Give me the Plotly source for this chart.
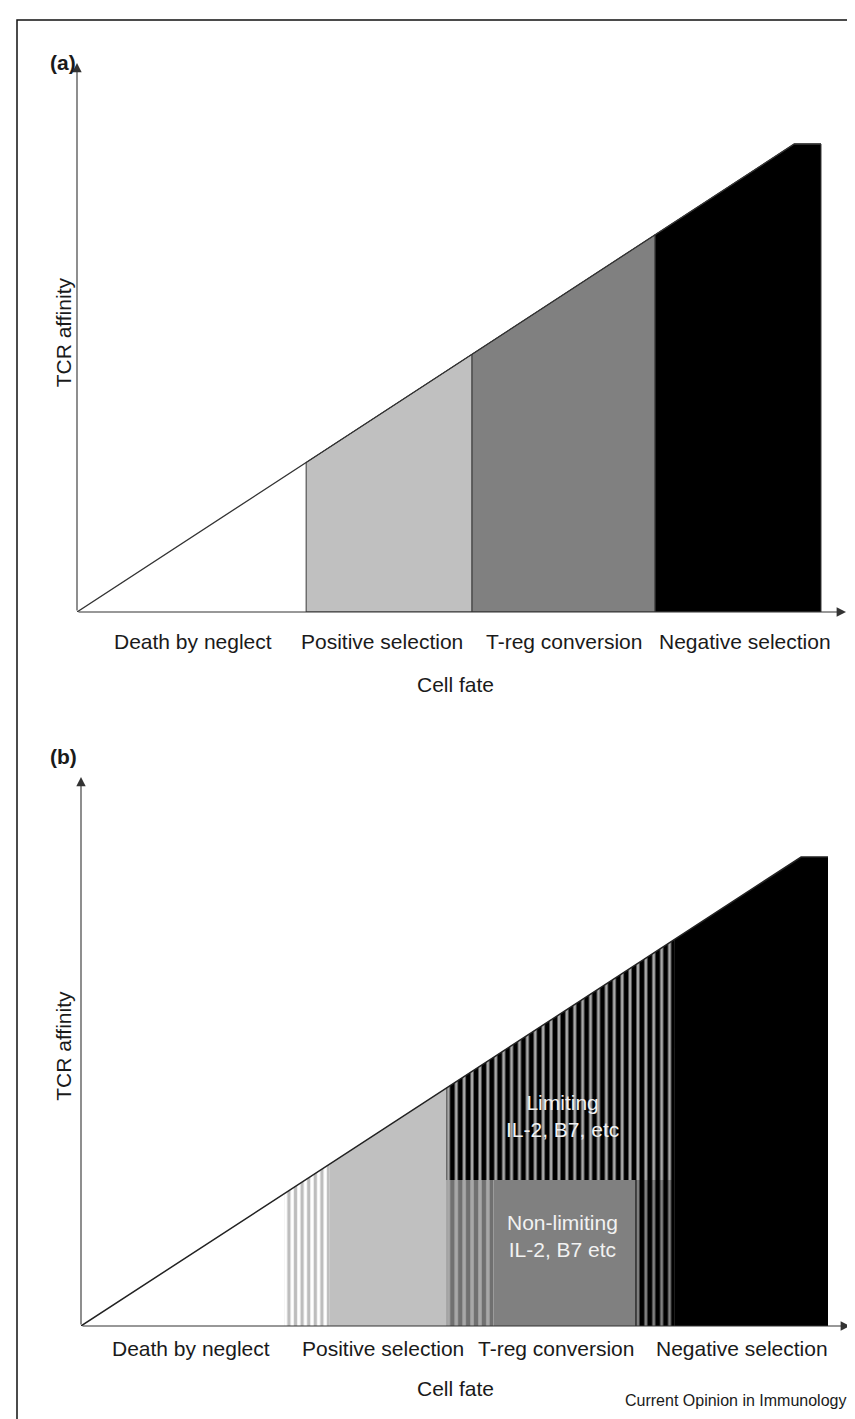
import plotly.graph_objects as go

W, H = 855, 1419
FONT = "Liberation Sans, Arial, Helvetica, sans-serif"

# ---------------- data ----------------
fates = ["Death by neglect", "Positive selection", "T-reg conversion", "Negative selection"]

# panel (a): affinity thresholds separating fates (arbitrary affinity units 0-100)
edges_a = [0, 30.8, 53.1, 77.7, 100]
fills_a = ["#ffffff", "#c0c0c0", "#808080", "#000000"]
cap_a = 96.4
label_x_a = [15.6, 41.0, 65.5, 89.8]

# panel (b)
cap_b = 96.4
pos_stripe_b = [27.2, 33.3]          # mixed neglect / positive selection
pos_b = [33.3, 48.9]                 # positive selection
treg_b = [48.9, 79.5]                # T-reg window
nonlim_left_b = [48.9, 55.2]
nonlim_mid_b = [55.2, 74.2]
nonlim_right_b = [74.2, 79.5]
neg_b = [79.5, 100]
limit_level_b = 30.0                 # affinity dividing limiting / non-limiting
label_x_b = [14.7, 40.4, 63.6, 88.5]

# pixel geometry of the two panels (origin, axis ends)
pan = {
    "a": dict(ox=69, oy=604, xend=838, ytop=55, xpx=7.44, ypx=4.855),
    "b": dict(ox=73, oy=1318, xend=842, ytop=769, xpx=7.47, ypx=4.865),
}


def diag(x, cap):
    return min(x, cap)


def region(x0, x1, cap, ylo=0.0):
    xs = [x0, x1, x1]
    ys = [ylo, ylo, diag(x1, cap)]
    if x0 < cap < x1:
        xs.append(cap)
        ys.append(cap)
    xs.append(x0)
    ys.append(diag(x0, cap))
    xs.append(x0)
    ys.append(ylo)
    return xs, ys


def box(x0, x1, y0, y1):
    return [x0, x1, x1, x0, x0], [y0, y0, y1, y1, y0]


fig = go.Figure()

# ---------------- panel (a) ----------------
for i in range(1, 4):
    xs, ys = region(edges_a[i], edges_a[i + 1], cap_a)
    fig.add_trace(go.Scatter(x=xs, y=ys, fill="toself", fillcolor=fills_a[i],
                             mode="lines", line=dict(color="#3a3a3a", width=1),
                             hoverinfo="skip", showlegend=False, xaxis="x", yaxis="y"))
fig.add_trace(go.Scatter(x=[0, cap_a, 100], y=[0, cap_a, cap_a], mode="lines",
                         line=dict(color="#333333", width=1.3), hoverinfo="skip",
                         showlegend=False, xaxis="x", yaxis="y"))

# ---------------- panel (b) ----------------
def add_b(xs, ys, bg, fg=None, size=8, solidity=0.4):
    kw = {}
    if fg is not None:
        kw["fillpattern"] = dict(shape="|", bgcolor=bg, fgcolor=fg, size=size,
                                 solidity=solidity, fillmode="replace")
    fig.add_trace(go.Scatter(x=xs, y=ys, fill="toself", fillcolor=bg, mode="lines",
                             line=dict(width=0, color=bg), hoverinfo="skip",
                             showlegend=False, xaxis="x2", yaxis="y2", **kw))


xs, ys = region(pos_stripe_b[0], pos_stripe_b[1], cap_b)
add_b(xs, ys, "#ffffff", "#bdbdbd", size=6.6, solidity=0.5)
xs, ys = region(pos_b[0], pos_b[1], cap_b)
add_b(xs, ys, "#c0c0c0")
xs, ys = region(treg_b[0], treg_b[1], cap_b, ylo=limit_level_b)
add_b(xs, ys, "#000000", "#a8a8a8", size=7.9, solidity=0.38)
xs, ys = box(nonlim_left_b[0], nonlim_left_b[1], 0, limit_level_b)
add_b(xs, ys, "#707070", "#a8a8a8", size=7.9, solidity=0.45)
xs, ys = box(nonlim_mid_b[0], nonlim_mid_b[1], 0, limit_level_b)
add_b(xs, ys, "#808080")
xs, ys = box(nonlim_right_b[0], nonlim_right_b[1], 0, limit_level_b)
add_b(xs, ys, "#000000", "#808080", size=7.9, solidity=0.38)
xs, ys = region(neg_b[0], neg_b[1], cap_b)
add_b(xs, ys, "#000000")
fig.add_trace(go.Scatter(x=[0, cap_b, 100], y=[0, cap_b, cap_b], mode="lines",
                         line=dict(color="#222222", width=1.5), hoverinfo="skip",
                         showlegend=False, xaxis="x2", yaxis="y2"))

# ---------------- axes ----------------
def axis_setup(p):
    g = pan[p]
    xr = (g["xend"] - g["ox"]) / g["xpx"]
    yr = (g["oy"] - g["ytop"]) / g["ypx"]
    xd = [g["ox"] / W, g["xend"] / W]
    yd = [1 - g["oy"] / H, 1 - g["ytop"] / H]
    common = dict(showgrid=False, zeroline=False, showline=False, showticklabels=False,
                  ticks="", fixedrange=True)
    return dict(range=[0, xr], domain=xd, **common), dict(range=[0, yr], domain=yd, **common), xr, yr


xa, ya, xr_a, yr_a = axis_setup("a")
xb, yb, xr_b, yr_b = axis_setup("b")

annotations = []


def arrows(xref, yref, xr, yr):
    for (hx, hy) in [(xr, 0), (0, yr)]:
        annotations.append(dict(x=hx, y=hy, ax=0, ay=0, xref=xref, yref=yref,
                                axref=xref, ayref=yref, showarrow=True, text="",
                                arrowhead=2, arrowsize=1.7, arrowwidth=1.1,
                                arrowcolor="#333333"))


arrows("x", "y", xr_a, yr_a)
arrows("x2", "y2", xr_b, yr_b)

txt = dict(family=FONT, size=21, color="#1a1a1a")
for lx, name in zip(label_x_a, fates):
    annotations.append(dict(x=lx, y=0, xref="x", yref="y", text=name, showarrow=False,
                            yshift=-29, font=txt))
for lx, name in zip(label_x_b, fates):
    annotations.append(dict(x=lx, y=0, xref="x2", yref="y2", text=name, showarrow=False,
                            yshift=-22, font=txt))

annotations.append(dict(x=50.9, y=0, xref="x", yref="y", text="Cell fate", showarrow=False,
                        yshift=-72, font=txt))
annotations.append(dict(x=50.2, y=0, xref="x2", yref="y2", text="Cell fate", showarrow=False,
                        yshift=-62, font=txt))
annotations.append(dict(x=42 / W, y=57.5, xref="paper", yref="y", text="TCR affinity",
                        textangle=-90, showarrow=False, font=txt))
annotations.append(dict(x=42 / W, y=57.5, xref="paper", yref="y2", text="TCR affinity",
                        textangle=-90, showarrow=False, font=txt))
annotations.append(dict(x=40 / W, y=1 - 41 / H, xref="paper", yref="paper", text="<b>(a)</b>",
                        showarrow=False, font=dict(family=FONT, size=21, color="#1a1a1a")))
annotations.append(dict(x=40 / W, y=1 - 748 / H, xref="paper", yref="paper", text="<b>(b)</b>",
                        showarrow=False, font=dict(family=FONT, size=21, color="#1a1a1a")))
annotations.append(dict(x=64.4, y=43.2, xref="x2", yref="y2", text="Limiting<br>IL-2, B7, etc",
                        showarrow=False, font=dict(family=FONT, size=21, color="#f2f2f2")))
annotations.append(dict(x=64.4, y=18.5, xref="x2", yref="y2", text="Non-limiting<br>IL-2, B7 etc",
                        showarrow=False, font=dict(family=FONT, size=21, color="#f2f2f2")))
annotations.append(dict(x=840 / W, y=1 - 1403 / H, xref="paper", yref="paper",
                        text="Current Opinion in Immunology", xanchor="right", showarrow=False,
                        font=dict(family=FONT, size=16, color="#1a1a1a")))

fig.update_layout(
    width=W, height=H, margin=dict(l=0, r=0, t=0, b=0),
    paper_bgcolor="white", plot_bgcolor="rgba(0,0,0,0)",
    xaxis=xa, yaxis=ya, xaxis2=dict(xb, anchor="y2"), yaxis2=dict(yb, anchor="x2"),
    annotations=annotations, showlegend=False,
    shapes=[dict(type="rect", xref="paper", yref="paper", x0=9 / W, x1=1.02,
                 y0=-0.02, y1=1 - 12 / H, line=dict(color="#111111", width=1.5))],
)
fig.update_layout(xaxis=dict(anchor="y"), yaxis=dict(anchor="x"))

fig.write_html("out.html")
